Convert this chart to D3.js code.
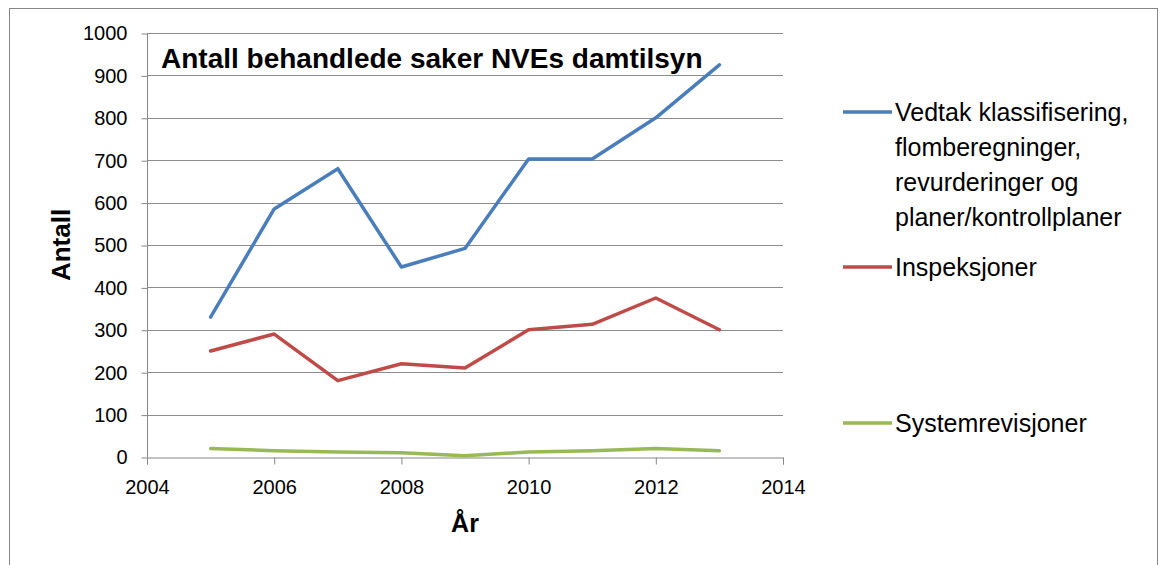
<!DOCTYPE html>
<html>
<head>
<meta charset="utf-8">
<script src="https://cdn.jsdelivr.net/npm/d3@7"></script>
<style>
  body { margin: 0; background: #fff; }
  svg { display: block; }
</style>
</head>
<body>
<div id="chart"></div>
<script>
// data
const years = [2005, 2006, 2007, 2008, 2009, 2010, 2011, 2012, 2013];
const vedtak = [330, 585, 680, 448, 492, 703, 703, 800, 925];
const inspeksjoner = [250, 290, 180, 220, 210, 300, 313, 375, 300];
const systemrevisjoner = [20, 15, 12, 10, 3, 12, 15, 20, 15];
const xTicks = [2004, 2006, 2008, 2010, 2012, 2014];
const yTicks = [0, 100, 200, 300, 400, 500, 600, 700, 800, 900, 1000];

const seriesNames = [
  ['Vedtak klassifisering,', 'flomberegninger,', 'revurderinger og', 'planer/kontrollplaner'],
  ['Inspeksjoner'],
  ['Systemrevisjoner']
];
const seriesColors = ['#4a7ebb', '#be4b48', '#98b954'];
const allSeries = [vedtak, inspeksjoner, systemrevisjoner];

const width = 1160, height = 565;
const margin = {left: 147, right: 377, top: 33, bottom: 108};
const font = 'Liberation Sans, Arial, sans-serif';

const svg = d3.select('#chart')
  .append('svg')
  .attr('width', width)
  .attr('height', height)
  .style('font-family', font);

// outer frame
svg.append('rect')
  .attr('x', 9.5).attr('y', 8.5)
  .attr('width', 1148).attr('height', 600)
  .attr('fill', 'none')
  .attr('stroke', '#868686')
  .attr('stroke-width', 1);

const x = d3.scaleLinear()
  .domain([2004, 2014])
  .range([margin.left, width - margin.right]);

const y = d3.scaleLinear()
  .domain([0, 1000])
  .range([height - margin.bottom, margin.top]);

// gridlines
svg.append('g')
  .selectAll('line')
  .data(yTicks.filter(d => d > 0))
  .join('line')
  .attr('x1', x(2004)).attr('x2', x(2014))
  .attr('y1', d => Math.round(y(d)) + 0.5)
  .attr('y2', d => Math.round(y(d)) + 0.5)
  .attr('stroke', '#8c8c8c')
  .attr('stroke-width', 1);

// y axis
const yAxis = svg.append('g')
  .attr('transform', `translate(${x(2004) + 0.5}, 0.5)`)
  .call(d3.axisLeft(y).tickValues(yTicks).tickSize(6).tickPadding(14).tickFormat(d3.format('d')));

// x axis
const xAxis = svg.append('g')
  .attr('transform', `translate(0, ${Math.round(y(0)) + 0.5})`)
  .call(d3.axisBottom(x).tickValues(xTicks).tickSize(7).tickPadding(15).tickFormat(d3.format('d')));

[yAxis, xAxis].forEach(g => {
  g.selectAll('path, line').attr('stroke', '#868686');
  g.selectAll('text')
    .attr('fill', '#000')
    .style('font-size', '20px')
    .style('font-family', font);
});
yAxis.select('.domain').remove();
yAxis.append('line')
  .attr('x1', 0).attr('x2', 0)
  .attr('y1', y(0)).attr('y2', y(1000))
  .attr('stroke', '#868686');

// lines
const line = d3.line()
  .x((d, i) => x(years[i]))
  .y(d => y(d));

svg.append('g')
  .selectAll('path')
  .data(allSeries)
  .join('path')
  .attr('d', d => line(d))
  .attr('fill', 'none')
  .attr('stroke', (d, i) => seriesColors[i])
  .attr('stroke-width', 3.5)
  .attr('stroke-linejoin', 'round')
  .attr('stroke-linecap', 'round');

// title
svg.append('text')
  .attr('x', 161).attr('y', 68)
  .style('font-size', '28px')
  .style('font-weight', 'bold')
  .text('Antall behandlede saker NVEs damtilsyn');

// axis titles
svg.append('text')
  .attr('x', (x(2004) + x(2014)) / 2)
  .attr('y', 532)
  .attr('text-anchor', 'middle')
  .style('font-size', '25px')
  .style('font-weight', 'bold')
  .text('År');

svg.append('text')
  .attr('transform', `translate(70, ${(y(0) + y(1000)) / 2}) rotate(-90)`)
  .attr('text-anchor', 'middle')
  .style('font-size', '26px')
  .style('font-weight', 'bold')
  .text('Antall');

// legend
const legendY = [112, 267, 423];
const legend = svg.append('g')
  .selectAll('g')
  .data(seriesNames)
  .join('g')
  .attr('transform', (d, i) => `translate(843, ${legendY[i]})`);

legend.append('line')
  .attr('x1', 0).attr('x2', 49)
  .attr('stroke', (d, i) => seriesColors[i])
  .attr('stroke-width', 3.5);

legend.append('text')
  .attr('y', 9)
  .style('font-size', '25px')
  .selectAll('tspan')
  .data(d => d)
  .join('tspan')
  .attr('x', 52)
  .attr('dy', (d, i) => i === 0 ? 0 : 35)
  .text(d => d);
</script>
</body>
</html>
